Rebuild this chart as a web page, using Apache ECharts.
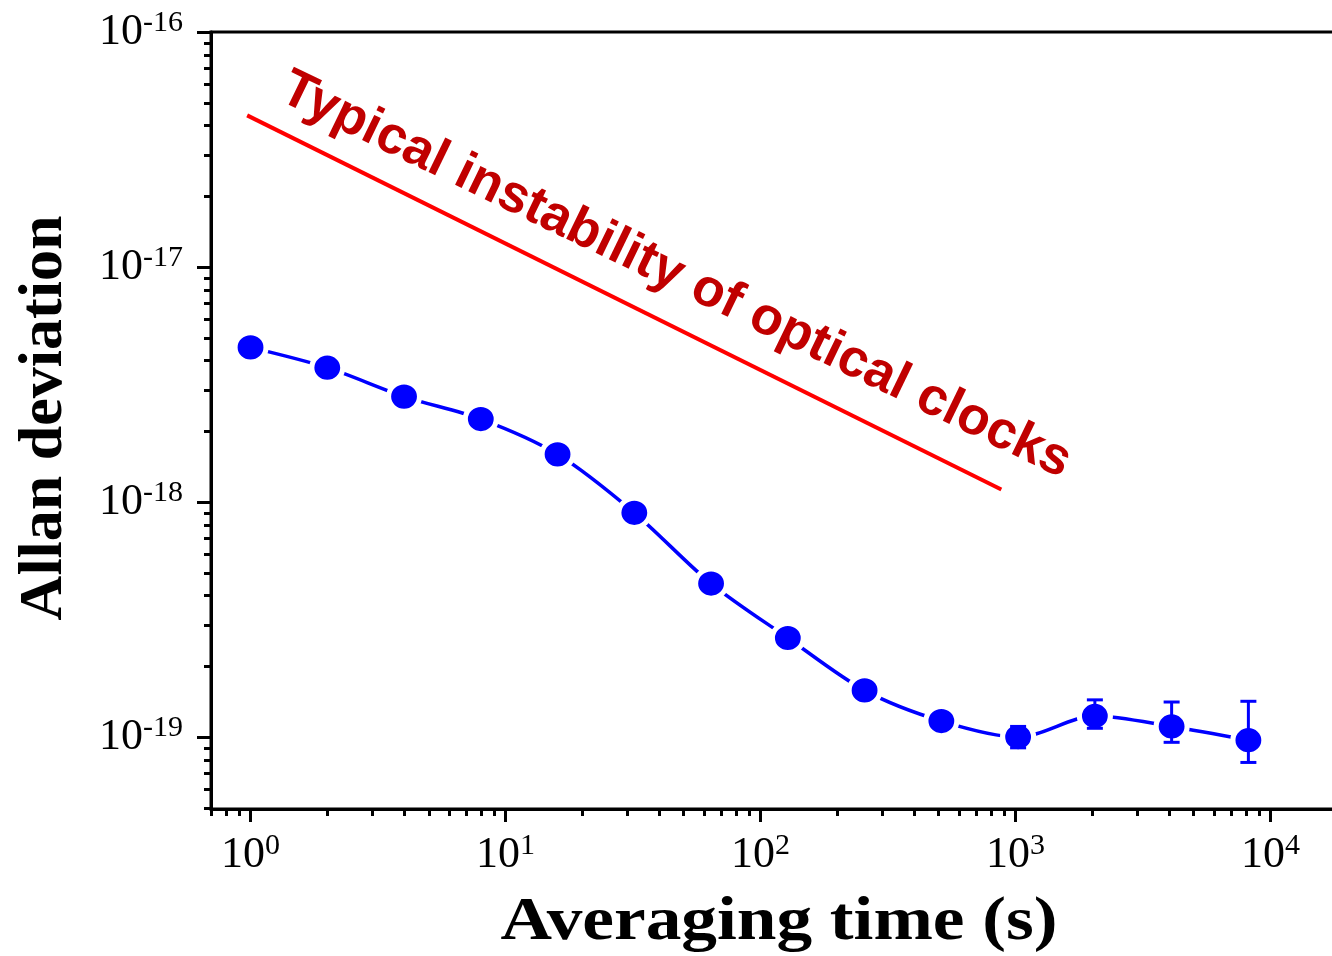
<!DOCTYPE html>
<html>
<head>
<meta charset="utf-8">
<title>Allan deviation</title>
<script src="https://cdn.jsdelivr.net/npm/echarts@6/dist/echarts.min.js"></script>
<style>
  html, body { margin: 0; padding: 0; background: #ffffff; }
  #chart { width: 1332px; height: 956px; }
</style>
</head>
<body>
<div id="chart"></div>
<script>
// Measured Allan deviation versus averaging time (s)
const tau = [1, 2, 4, 8, 16, 32, 64, 128, 256, 512, 1024, 2048, 4096, 8192];
const adev = [4.55e-18, 3.73e-18, 2.81e-18, 2.255e-18, 1.596e-18, 9.0e-19, 4.5e-19,
              2.64e-19, 1.58e-19, 1.17e-19, 1.0e-19, 1.23e-19, 1.11e-19, 9.7e-20];

// Error bars on the longest averaging times
const errTau = [1024, 2048, 4096, 8192];
const errLow = [9.0e-20, 1.09e-19, 9.5e-20, 7.8e-20];
const errHigh = [1.11e-19, 1.44e-19, 1.41e-19, 1.42e-19];

// Reference line: typical optical clock instability
const refTau = [0.97, 880];
const refAdev = [4.42e-17, 1.13e-18];
const refLabel = 'Typical instability of optical clocks';
const refLabelAt = [46.6, 9.2e-18];   // centre of the annotation (tau, sigma)

// Decade exponents used for major ticks and labels
const xTickExp = [0, 1, 2, 3, 4];
const yTickExp = [-19, -18, -17, -16];

// Axis extents in log10 units
const X_MIN = -0.155, X_MAX = 4.257;
const Y_MIN = -19.306, Y_MAX = -16;

const lg = Math.log10;

function minorTicks(lo, hi) {
  const out = [];
  for (let d = Math.floor(lo) - 1; d <= Math.ceil(hi); d++) {
    for (let k = 2; k <= 9; k++) {
      const v = d + lg(k);
      if (v >= lo - 1e-9 && v <= hi + 1e-9) out.push(v);
    }
  }
  return out;
}
const xMinor = minorTicks(X_MIN, X_MAX);
const yMinor = minorTicks(Y_MIN, Y_MAX);

const serif = 'Liberation Serif, Times New Roman, serif';
const labelRich = {
  b: { fontFamily: serif, fontSize: 44, lineHeight: 48, color: '#000' },
  s: { fontFamily: serif, fontSize: 30, lineHeight: 22, verticalAlign: 'top', color: '#000' }
};
const powLabel = v => '{b|10}{s|' + Math.round(v) + '}';

const axisLineStyle = { color: '#000', width: 3 };

const chart = echarts.init(document.getElementById('chart'), null, { renderer: 'canvas' });

const option = {
  animation: false,
  backgroundColor: '#ffffff',
  grid: {
    left: 211, top: 32, width: 1125, height: 777,
    show: true, borderColor: '#000', borderWidth: 3, backgroundColor: 'transparent',
    containLabel: false, outerBoundsMode: 'none'
  },
  xAxis: [
    {
      type: 'value', position: 'bottom', min: X_MIN, max: X_MAX,
      axisLine: { show: true, onZero: false, lineStyle: axisLineStyle },
      axisTick: { show: true, inside: false, length: 13, lineStyle: axisLineStyle, customValues: xTickExp },
      axisLabel: { show: true, customValues: xTickExp, formatter: powLabel, rich: labelRich, margin: 22 },
      splitLine: { show: false }
    },
    {
      type: 'value', position: 'bottom', min: X_MIN, max: X_MAX,
      axisLine: { show: false, onZero: false },
      axisTick: { show: true, inside: false, length: 7, lineStyle: axisLineStyle, customValues: xMinor },
      axisLabel: { show: false },
      splitLine: { show: false }
    }
  ],
  yAxis: [
    {
      type: 'value', position: 'left', min: Y_MIN, max: Y_MAX,
      axisLine: { show: true, onZero: false, lineStyle: axisLineStyle },
      axisTick: { show: true, inside: false, length: 14, lineStyle: axisLineStyle, customValues: yTickExp },
      axisLabel: { show: true, customValues: yTickExp, formatter: powLabel, rich: labelRich, margin: 28 },
      splitLine: { show: false }
    },
    {
      type: 'value', position: 'left', min: Y_MIN, max: Y_MAX,
      axisLine: { show: false, onZero: false },
      axisTick: { show: true, inside: false, length: 7, lineStyle: axisLineStyle, customValues: yMinor },
      axisLabel: { show: false },
      splitLine: { show: false }
    }
  ],
  series: [
    {
      name: 'reference',
      type: 'line',
      xAxisIndex: 0, yAxisIndex: 0,
      data: refTau.map((t, i) => [lg(t), lg(refAdev[i])]),
      showSymbol: false,
      symbol: 'none',
      lineStyle: { color: '#ff0000', width: 4 },
      silent: true,
      z: 2
    },
    {
      name: 'Allan deviation',
      type: 'line',
      xAxisIndex: 0, yAxisIndex: 0,
      data: tau.map((t, i) => [lg(t), lg(adev[i])]),
      smooth: 0.3,
      symbol: 'circle',
      symbolSize: [31, 29],
      itemStyle: { color: '#0000ff', borderColor: '#ffffff', borderWidth: 5 },
      lineStyle: { color: '#0000ff', width: 3.5 },
      emphasis: { disabled: true },
      silent: true,
      z: 3
    },
    {
      name: 'error',
      type: 'custom',
      xAxisIndex: 0, yAxisIndex: 0,
      data: errTau.map((t, i) => [lg(t), lg(errLow[i]), lg(errHigh[i])]),
      encode: { x: 0, y: [1, 2] },
      renderItem: function (params, api) {
        const x = api.value(0);
        const pLo = api.coord([x, api.value(1)]);
        const pHi = api.coord([x, api.value(2)]);
        const half = 8;
        const style = { stroke: '#0000ff', lineWidth: 3, fill: null };
        return {
          type: 'group',
          children: [
            { type: 'line', shape: { x1: pLo[0], y1: pLo[1], x2: pHi[0], y2: pHi[1] }, style },
            { type: 'line', shape: { x1: pHi[0] - half, y1: pHi[1], x2: pHi[0] + half, y2: pHi[1] }, style },
            { type: 'line', shape: { x1: pLo[0] - half, y1: pLo[1], x2: pLo[0] + half, y2: pLo[1] }, style }
          ]
        };
      },
      silent: true,
      z: 4
    }
  ],
  graphic: [
    {
      type: 'text',
      x: 779, y: 923,
      scaleX: 1.15,
      style: {
        text: 'Averaging time (s)',
        fontFamily: serif, fontWeight: 'bold', fontSize: 62,
        fill: '#000', align: 'center', verticalAlign: 'middle'
      },
      silent: true
    },
    {
      type: 'text',
      x: 45, y: 418,
      rotation: Math.PI / 2,
      style: {
        text: 'Allan deviation',
        fontFamily: serif, fontWeight: 'bold', fontSize: 62,
        fill: '#000', align: 'center', verticalAlign: 'middle'
      },
      silent: true
    }
  ]
};

chart.setOption(option);

// Annotation placed along the reference line
const anchor = chart.convertToPixel({ xAxisIndex: 0, yAxisIndex: 0 }, [lg(refLabelAt[0]), lg(refLabelAt[1])]);
chart.setOption({
  graphic: [
    {
      type: 'text',
      id: 'refLabel',
      x: anchor[0], y: anchor[1],
      rotation: -25.8 * Math.PI / 180,
      style: {
        text: refLabel,
        fontFamily: 'Liberation Sans, Arial, sans-serif', fontWeight: 'bold', fontSize: 53,
        fill: '#c00000', align: 'center', verticalAlign: 'middle'
      },
      silent: true
    }
  ]
});
</script>
</body>
</html>
